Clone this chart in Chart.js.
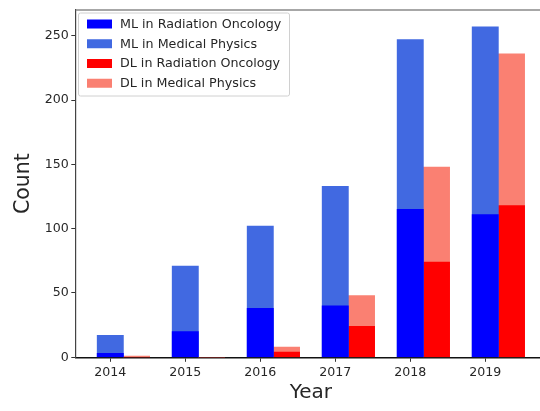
<!DOCTYPE html>
<html>
<head>
<meta charset="utf-8">
<script src="https://cdn.jsdelivr.net/npm/chart.js@4.4.1/dist/chart.umd.min.js"></script>
<style>
  html, body { margin: 0; padding: 0; background: #fff; overflow: hidden; }
  #wrap { width: 548px; height: 411px; }
</style>
</head>
<body>
<div id="wrap"><canvas id="chart" width="548" height="411"></canvas></div>
<script>
// Publication counts per year
const years = [2014, 2015, 2016, 2017, 2018, 2019];
const mlRadiationOncology = [3, 20, 38, 40, 115, 111];
const mlMedicalPhysics    = [17, 71, 102, 133, 247, 257];
const dlRadiationOncology = [0, 0, 4, 24, 74, 118];
const dlMedicalPhysics    = [1, 0, 8, 48, 148, 236];
const yTicks = [0, 50, 100, 150, 200, 250];

const seriesLabels = [
  'ML in Radiation Oncology',
  'ML in Medical Physics',
  'DL in Radiation Oncology',
  'DL in Medical Physics'
];
const seriesColors = ['#0000ff', '#4169e1', '#ff0000', '#fa8072'];

// ML bars sit on the year, DL bars one bar-width to the right
const barWidth = 0.35;
const points = (vals, shift) => vals.map((v, i) => ({ x: years[i] + shift, y: v }));

const FONT = 'DejaVu Sans';
const TEXT = '#262626';

// Top frame line and the boxed legend in the upper-left corner
const framePlugin = {
  id: 'frame',
  afterDraw(chart) {
    const { ctx, chartArea: a } = chart;
    ctx.save();
    ctx.strokeStyle = '#8a8a8a';
    ctx.lineWidth = 1.4;
    ctx.beginPath();
    ctx.moveTo(a.left, a.top);
    ctx.lineTo(a.right, a.top);
    ctx.stroke();

    // legend box
    const bx = 78.5, by = 13, bw = 211, bh = 83;
    ctx.fillStyle = 'rgba(255,255,255,0.85)';
    ctx.strokeStyle = '#d0d0d0';
    ctx.lineWidth = 1;
    ctx.beginPath();
    ctx.roundRect(bx, by, bw, bh, 2);
    ctx.fill();
    ctx.stroke();

    ctx.font = '12.7px "' + FONT + '"';
    ctx.textBaseline = 'middle';
    ctx.textAlign = 'left';
    chart.data.datasets.forEach((ds, i) => {
      const cy = 24 + i * 19.75;
      ctx.fillStyle = ds.backgroundColor;
      ctx.fillRect(87, cy - 4.5, 25, 9);
      ctx.fillStyle = TEXT;
      ctx.fillText(ds.label, 120, cy + 0.5);
    });
    ctx.restore();
  }
};

new Chart(document.getElementById('chart'), {
  type: 'bar',
  data: {
    datasets: [
      { label: seriesLabels[0], data: points(mlRadiationOncology, 0), backgroundColor: seriesColors[0] },
      { label: seriesLabels[1], data: points(mlMedicalPhysics, 0), backgroundColor: seriesColors[1] },
      { label: seriesLabels[2], data: points(dlRadiationOncology, barWidth), backgroundColor: seriesColors[2] },
      { label: seriesLabels[3], data: points(dlMedicalPhysics, barWidth), backgroundColor: seriesColors[3] }
    ]
  },
  options: {
    responsive: false,
    animation: false,
    devicePixelRatio: 1,
    grouped: false,
    barPercentage: 1,
    categoryPercentage: 1,
    borderWidth: 0,
    layout: { padding: { top: 6, right: 2, left: 0, bottom: 0 } },
    plugins: {
      legend: { display: false },
      tooltip: { enabled: false }
    },
    scales: {
      x: {
        type: 'linear',
        offset: false,
        bounds: 'data',
        min: years[0] - barWidth / 2 - 0.285,
        max: years[years.length - 1] + barWidth * 1.5 + 0.285,
        afterBuildTicks(scale) { scale.ticks = years.map(v => ({ value: v })); },
        afterFit(scale) { scale.height = 53.7; },
        grid: { offset: false, drawOnChartArea: false, tickLength: 4.5, tickColor: '#333', tickWidth: 1 },
        border: { display: true, color: '#111', width: 1.5 },
        ticks: {
          color: TEXT,
          font: { family: FONT, size: 12.6 },
          padding: 3,
          maxRotation: 0,
          callback: v => String(v)
        },
        title: {
          display: true,
          text: 'Year',
          color: TEXT,
          font: { family: FONT, size: 20 },
          padding: { top: 0, bottom: 6 }
        }
      },
      y: {
        min: 0,
        max: 270,
        afterBuildTicks(scale) { scale.ticks = yTicks.map(v => ({ value: v })); },
        afterFit(scale) { scale.width = 75.8; },
        grid: { drawOnChartArea: false, tickLength: 4.5, tickColor: '#333', tickWidth: 1 },
        border: { display: true, color: '#444', width: 1.2 },
        ticks: {
          color: TEXT,
          font: { family: FONT, size: 12.6 },
          padding: 2.5,
          callback: v => String(v)
        },
        title: {
          display: true,
          text: 'Count',
          color: TEXT,
          font: { family: FONT, size: 20.5 },
          padding: { top: 11, bottom: 0 }
        }
      }
    }
  },
  plugins: [framePlugin]
});
</script>
</body>
</html>
